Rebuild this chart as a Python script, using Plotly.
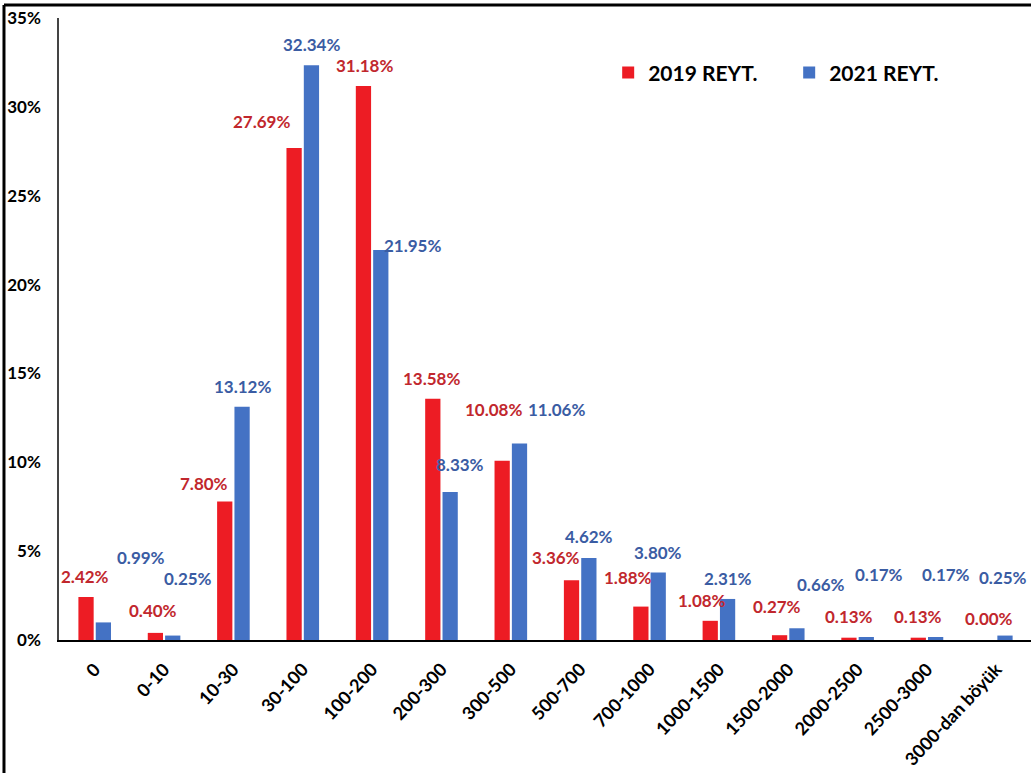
import plotly.graph_objects as go

categories = ["0", "0-10", "10-30", "30-100", "100-200", "200-300", "300-500",
              "500-700", "700-1000", "1000-1500", "1500-2000", "2000-2500",
              "2500-3000", "3000-dan böyük"]
values_2019 = [2.42, 0.40, 7.80, 27.69, 31.18, 13.58, 10.08, 3.36, 1.88, 1.08, 0.27, 0.13, 0.13, 0.00]
values_2021 = [0.99, 0.25, 13.12, 32.34, 21.95, 8.33, 11.06, 4.62, 3.80, 2.31, 0.66, 0.17, 0.17, 0.25]
series_names = ["2019 REYT.", "2021 REYT."]
y_tick_vals = [0, 5, 10, 15, 20, 25, 30, 35]
y_tick_text = ["0%", "5%", "10%", "15%", "20%", "25%", "30%", "35%"]

# label placement offsets in pixels (dx right, dy up) relative to each bar's top centre
off_2019 = [(-1, 20), (-2, 22), (-21, 18), (-33, 26), (1, 20), (-1, 20), (-9, 51),
            (-15, 23), (-13, 29), (-8, 20), (-3, 29), (0, 21), (0, 21), (1, 22)]
off_2021 = [(38, 65), (15, 57), (0, 20), (0, 21), (32, 4), (10, 27), (37, 34),
            (0, 21), (0, 20), (0, 20), (24, 44), (13, 62), (10, 62), (-2, 58)]

RED = "#ed1c24"
BLUE = "#4472c4"
RED_TXT = "#c1272d"
BLUE_TXT = "#3a5ca3"
FONT = "Lato"

fig = go.Figure()
fig.add_trace(go.Bar(x=categories, y=values_2019, name=series_names[0],
                     marker=dict(color=RED, line=dict(width=0))))
fig.add_trace(go.Bar(x=categories, y=values_2021, name=series_names[1],
                     marker=dict(color=BLUE, line=dict(width=0))))

half = 8.7
annotations = []
for vals, offs, col, sgn in ((values_2019, off_2019, RED_TXT, -1), (values_2021, off_2021, BLUE_TXT, 1)):
    for cat, v, (dx, dy) in zip(categories, vals, offs):
        annotations.append(dict(
            x=cat, y=v, xref="x", yref="y", text=f"{v:.2f}%", showarrow=False,
            xanchor="center", yanchor="middle", xshift=sgn * half + dx, yshift=dy,
            font=dict(family=FONT, size=17, color=col, weight="bold")))

fig.update_layout(
    width=1031, height=773,
    margin=dict(l=59, r=0, t=18, b=133, pad=0),
    paper_bgcolor="white", plot_bgcolor="white",
    barmode="group", bargap=0.5, bargroupgap=0.12,
    font=dict(family=FONT, color="black"),
    annotations=annotations,
    legend=dict(orientation="h", x=0.565, y=0.912, xanchor="left", yanchor="middle",
                font=dict(family=FONT, size=21, color="black", weight="bold"),
                entrywidth=136, bgcolor="rgba(0,0,0,0)"),
    xaxis=dict(type="category", showline=True, linecolor="black", linewidth=1.5,
               tickangle=-47, ticks="", showgrid=False, zeroline=False, automargin=False,
               ticklabelstandoff=10,
               tickfont=dict(family=FONT, size=18, color="black", weight="bold")),
    yaxis=dict(range=[0, 35], tickvals=y_tick_vals, ticktext=y_tick_text,
               showline=True, linecolor="#444444", linewidth=1.5, showgrid=False,
               zeroline=False, ticks="", ticklabelstandoff=13, automargin=False,
               tickfont=dict(family=FONT, size=17, color="black", weight="bold")),
    shapes=[
        dict(type="line", xref="paper", yref="paper", x0=-0.0566, x1=1.0, y0=1.0209, y1=1.0209,
             line=dict(color="black", width=3)),
        dict(type="line", xref="paper", yref="paper", x0=-0.0566, x1=-0.0566, y0=1.0209, y1=-0.22,
             line=dict(color="black", width=3)),
    ],
)

fig.write_html("out.html", config={"displayModeBar": False},
               post_script="document.body.style.margin='0';document.body.style.overflow='hidden';")
